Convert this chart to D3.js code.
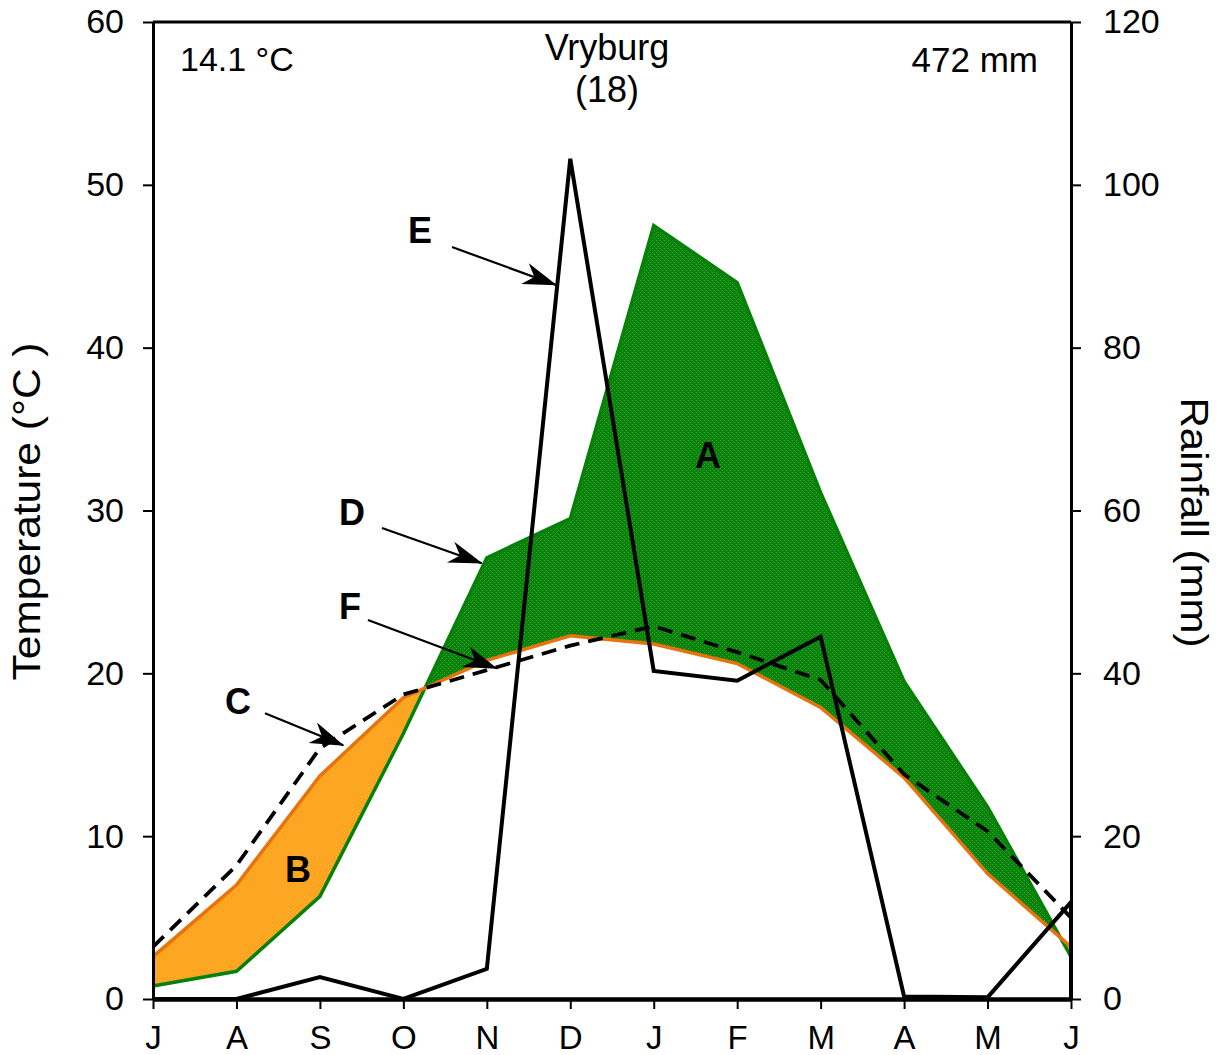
<!DOCTYPE html>
<html><head><meta charset="utf-8">
<script src="https://cdn.jsdelivr.net/npm/d3@7"></script>
<style>
body{margin:0;background:#fff}
svg{display:block}
text{font-family:"Liberation Sans",Arial,Helvetica,sans-serif}
</style>
</head><body><div id="chart"></div>
<script>
// ---- data ----
const months      = ["J","A","S","O","N","D","J","F","M","A","M","J"];
const tempMean    = [2.6, 7.0, 13.7, 18.5, 20.8, 22.3, 21.8, 20.6, 17.9, 13.6, 7.7, 3.2];   // orange line
const tempDashed  = [3.2, 8.2, 15.4, 18.7, 20.2, 21.7, 22.9, 21.3, 19.6, 13.8, 10.3, 5.0];  // C (dashed)
const greenCurve  = [0.8, 1.7, 6.3, 16.3, 27.1, 29.5, 47.5, 44.0, 31.1, 19.5, 11.8, 2.6];   // D (green)
const rainfall    = [0, 0, 2.7, 0, 3.7, 103.2, 40.3, 39.1, 44.5, 0.3, 0.2, 11.9];          // E (mm)
const leftTicks   = [0, 10, 20, 30, 40, 50, 60];
const rightTicks  = [0, 20, 40, 60, 80, 100, 120];
const titleText   = ["Vryburg", "(18)"];
const meanTempTxt = "14.1 °C";
const totalRainTxt= "472 mm";
const leftTitle   = "Temperature (°C )";
const rightTitle  = "Rainfall (mm)";
// annotations in data units: [label, labelX, labelY, fromX, fromY, toX, toY] (x = month index, y = °C)
const annotations = [
  ["E", 3.2,  47.2, 3.583, 46.18, 4.829, 43.85],
  ["D", 2.385, 29.85, 2.744, 28.93, 3.939, 26.76],
  ["F", 2.36, 24.1, 2.576, 23.28, 4.118, 20.31],
  ["C", 1.019, 18.3, 1.342, 17.55, 2.28, 15.58]
];
const areaLabels = [["A", 6.651, 33.35], ["B", 1.737, 7.98]];

// ---- layout ----
const W = 1228, H = 1055;
const L = 153, R = 1071, T = 22, B = 999;
const idx = d3.range(months.length);
const x  = d3.scaleLinear().domain([0, months.length - 1]).range([L, R]);
const yT = d3.scaleLinear().domain([0, 60]).range([B, T]);
const yR = d3.scaleLinear().domain([0, 120]).range([B, T]);

const svg = d3.select("#chart").append("svg").attr("width", W).attr("height", H);
const defs = svg.append("defs");

// textured fills
function pattern(id, base, dot) {
  const p = defs.append("pattern").attr("id", id).attr("patternUnits", "userSpaceOnUse")
    .attr("width", 4).attr("height", 4);
  p.append("rect").attr("width", 4).attr("height", 4).attr("fill", base);
  p.append("rect").attr("x", 0).attr("y", 0).attr("width", 1).attr("height", 1).attr("fill", dot);
  p.append("rect").attr("x", 2).attr("y", 2).attr("width", 1).attr("height", 1).attr("fill", dot);
}
pattern("pGreen", "#0a830a", "#3a9e3a");
pattern("pOrange", "#ffa31a", "#f7b955");

// clip paths
const below = (arr) => d3.area().x(i => x(i)).y0(yT(0)).y1(i => yT(arr[i]))(idx);
defs.append("clipPath").attr("id", "belowGreen").append("path").attr("d", below(greenCurve));
defs.append("clipPath").attr("id", "belowOrange").append("path").attr("d", below(tempMean));

const above = (arr) => d3.area().x(i => x(i)).y0(yT(60)).y1(i => yT(arr[i]))(idx);
// A: below green, above orange
svg.append("path").attr("d", above(tempMean)).attr("fill", "url(#pGreen)").attr("clip-path", "url(#belowGreen)");
// B: below orange, above green
svg.append("path").attr("d", above(greenCurve)).attr("fill", "url(#pOrange)").attr("clip-path", "url(#belowOrange)");

function tLine(arr) { return d3.line().x(i => x(i)).y(i => yT(arr[i]))(idx); }

// green curve with closing drop at the end
const gPts = idx.map(i => [x(i), yT(greenCurve[i])]);
gPts.push([x(months.length - 1), yT(0)]);
svg.append("path").attr("d", d3.line()(gPts)).attr("fill", "none").attr("stroke", "#078007")
  .attr("stroke-width", 3.5).attr("stroke-linejoin", "miter");
svg.append("path").attr("d", tLine(tempMean)).attr("fill", "none").attr("stroke", "#e8720c")
  .attr("stroke-width", 3.5);
svg.append("path").attr("d", tLine(tempDashed)).attr("fill", "none").attr("stroke", "#000")
  .attr("stroke-width", 3.8).attr("stroke-dasharray", "15,9");

// rainfall line
const rPts = idx.map(i => [x(i), yR(rainfall[i])]);
rPts.push([x(months.length - 1), yR(0)]);
svg.append("path").attr("d", d3.line()(rPts)).attr("fill", "none").attr("stroke", "#000")
  .attr("stroke-width", 4).attr("stroke-linejoin", "miter").attr("stroke-miterlimit", 4);

// ---- axes ----
const fontTick = "34px";
const axL = svg.append("g").attr("transform", `translate(${L},0)`)
  .call(d3.axisLeft(yT).tickValues(leftTicks).tickSize(10).tickSizeOuter(0).tickPadding(19));
const axR = svg.append("g").attr("transform", `translate(${R},0)`)
  .call(d3.axisRight(yR).tickValues(rightTicks).tickSize(10).tickSizeOuter(0).tickPadding(22));
const axB = svg.append("g").attr("transform", `translate(0,${B})`)
  .call(d3.axisBottom(x).tickValues(idx).tickFormat(i => months[i]).tickSize(10).tickSizeOuter(0).tickPadding(17));
[axL, axR, axB].forEach(g => {
  g.selectAll("text").attr("font-size", fontTick).attr("fill", "#000")
    .attr("font-family", '"Liberation Sans",Arial,sans-serif');
  g.selectAll(".tick line").attr("stroke", "#000").attr("stroke-width", 2);
  g.select(".domain").attr("stroke", "#000").attr("stroke-width", 3);
});
axB.selectAll("text").attr("font-size", "33px");
axB.select(".domain").attr("stroke-width", 4.5);
// top frame line
svg.append("line").attr("x1", L).attr("x2", R).attr("y1", yT(60)).attr("y2", yT(60))
  .attr("stroke", "#000").attr("stroke-width", 3);

// axis titles
svg.append("text").attr("transform", `translate(40,${(T + B) / 2 + 1}) rotate(-90)`)
  .attr("text-anchor", "middle").attr("font-size", "38px").attr("textLength", 338)
  .attr("lengthAdjust", "spacingAndGlyphs").text(leftTitle);
svg.append("text").attr("transform", `translate(1181,${(T + B) / 2 + 12}) rotate(90)`)
  .attr("text-anchor", "middle").attr("font-size", "38px").attr("textLength", 250)
  .attr("lengthAdjust", "spacingAndGlyphs").text(rightTitle);

// corner texts
svg.append("text").attr("x", 180).attr("y", 71).attr("font-size", "34px").text(meanTempTxt);
svg.append("text").attr("x", 1038).attr("y", 72).attr("text-anchor", "end").attr("font-size", "35px").text(totalRainTxt);
svg.append("text").attr("x", 607).attr("y", 60).attr("text-anchor", "middle").attr("font-size", "36px").text(titleText[0]);
svg.append("text").attr("x", 607).attr("y", 102).attr("text-anchor", "middle").attr("font-size", "36px").text(titleText[1]);

// arrows
defs.append("marker").attr("id", "head").attr("markerUnits", "userSpaceOnUse")
  .attr("viewBox", "-36 -12 38 24").attr("refX", 0).attr("refY", 0)
  .attr("markerWidth", 38).attr("markerHeight", 24).attr("orient", "auto")
  .append("path").attr("d", "M1,0 L-33,-11 L-23,0 L-33,11 Z").attr("fill", "#000");

annotations.forEach(a => {
  svg.append("line").attr("x1", x(a[3])).attr("y1", yT(a[4])).attr("x2", x(a[5])).attr("y2", yT(a[6]))
    .attr("stroke", "#000").attr("stroke-width", 2.2).attr("marker-end", "url(#head)");
  svg.append("text").attr("x", x(a[1])).attr("y", yT(a[2])).attr("text-anchor", "middle")
    .attr("dominant-baseline", "central").attr("font-weight", "bold").attr("font-size", "36px").text(a[0]);
});
areaLabels.forEach(a => {
  svg.append("text").attr("x", x(a[1])).attr("y", yT(a[2])).attr("text-anchor", "middle")
    .attr("dominant-baseline", "central").attr("font-weight", "bold").attr("font-size", "36px").text(a[0]);
});
</script>
</body></html>
